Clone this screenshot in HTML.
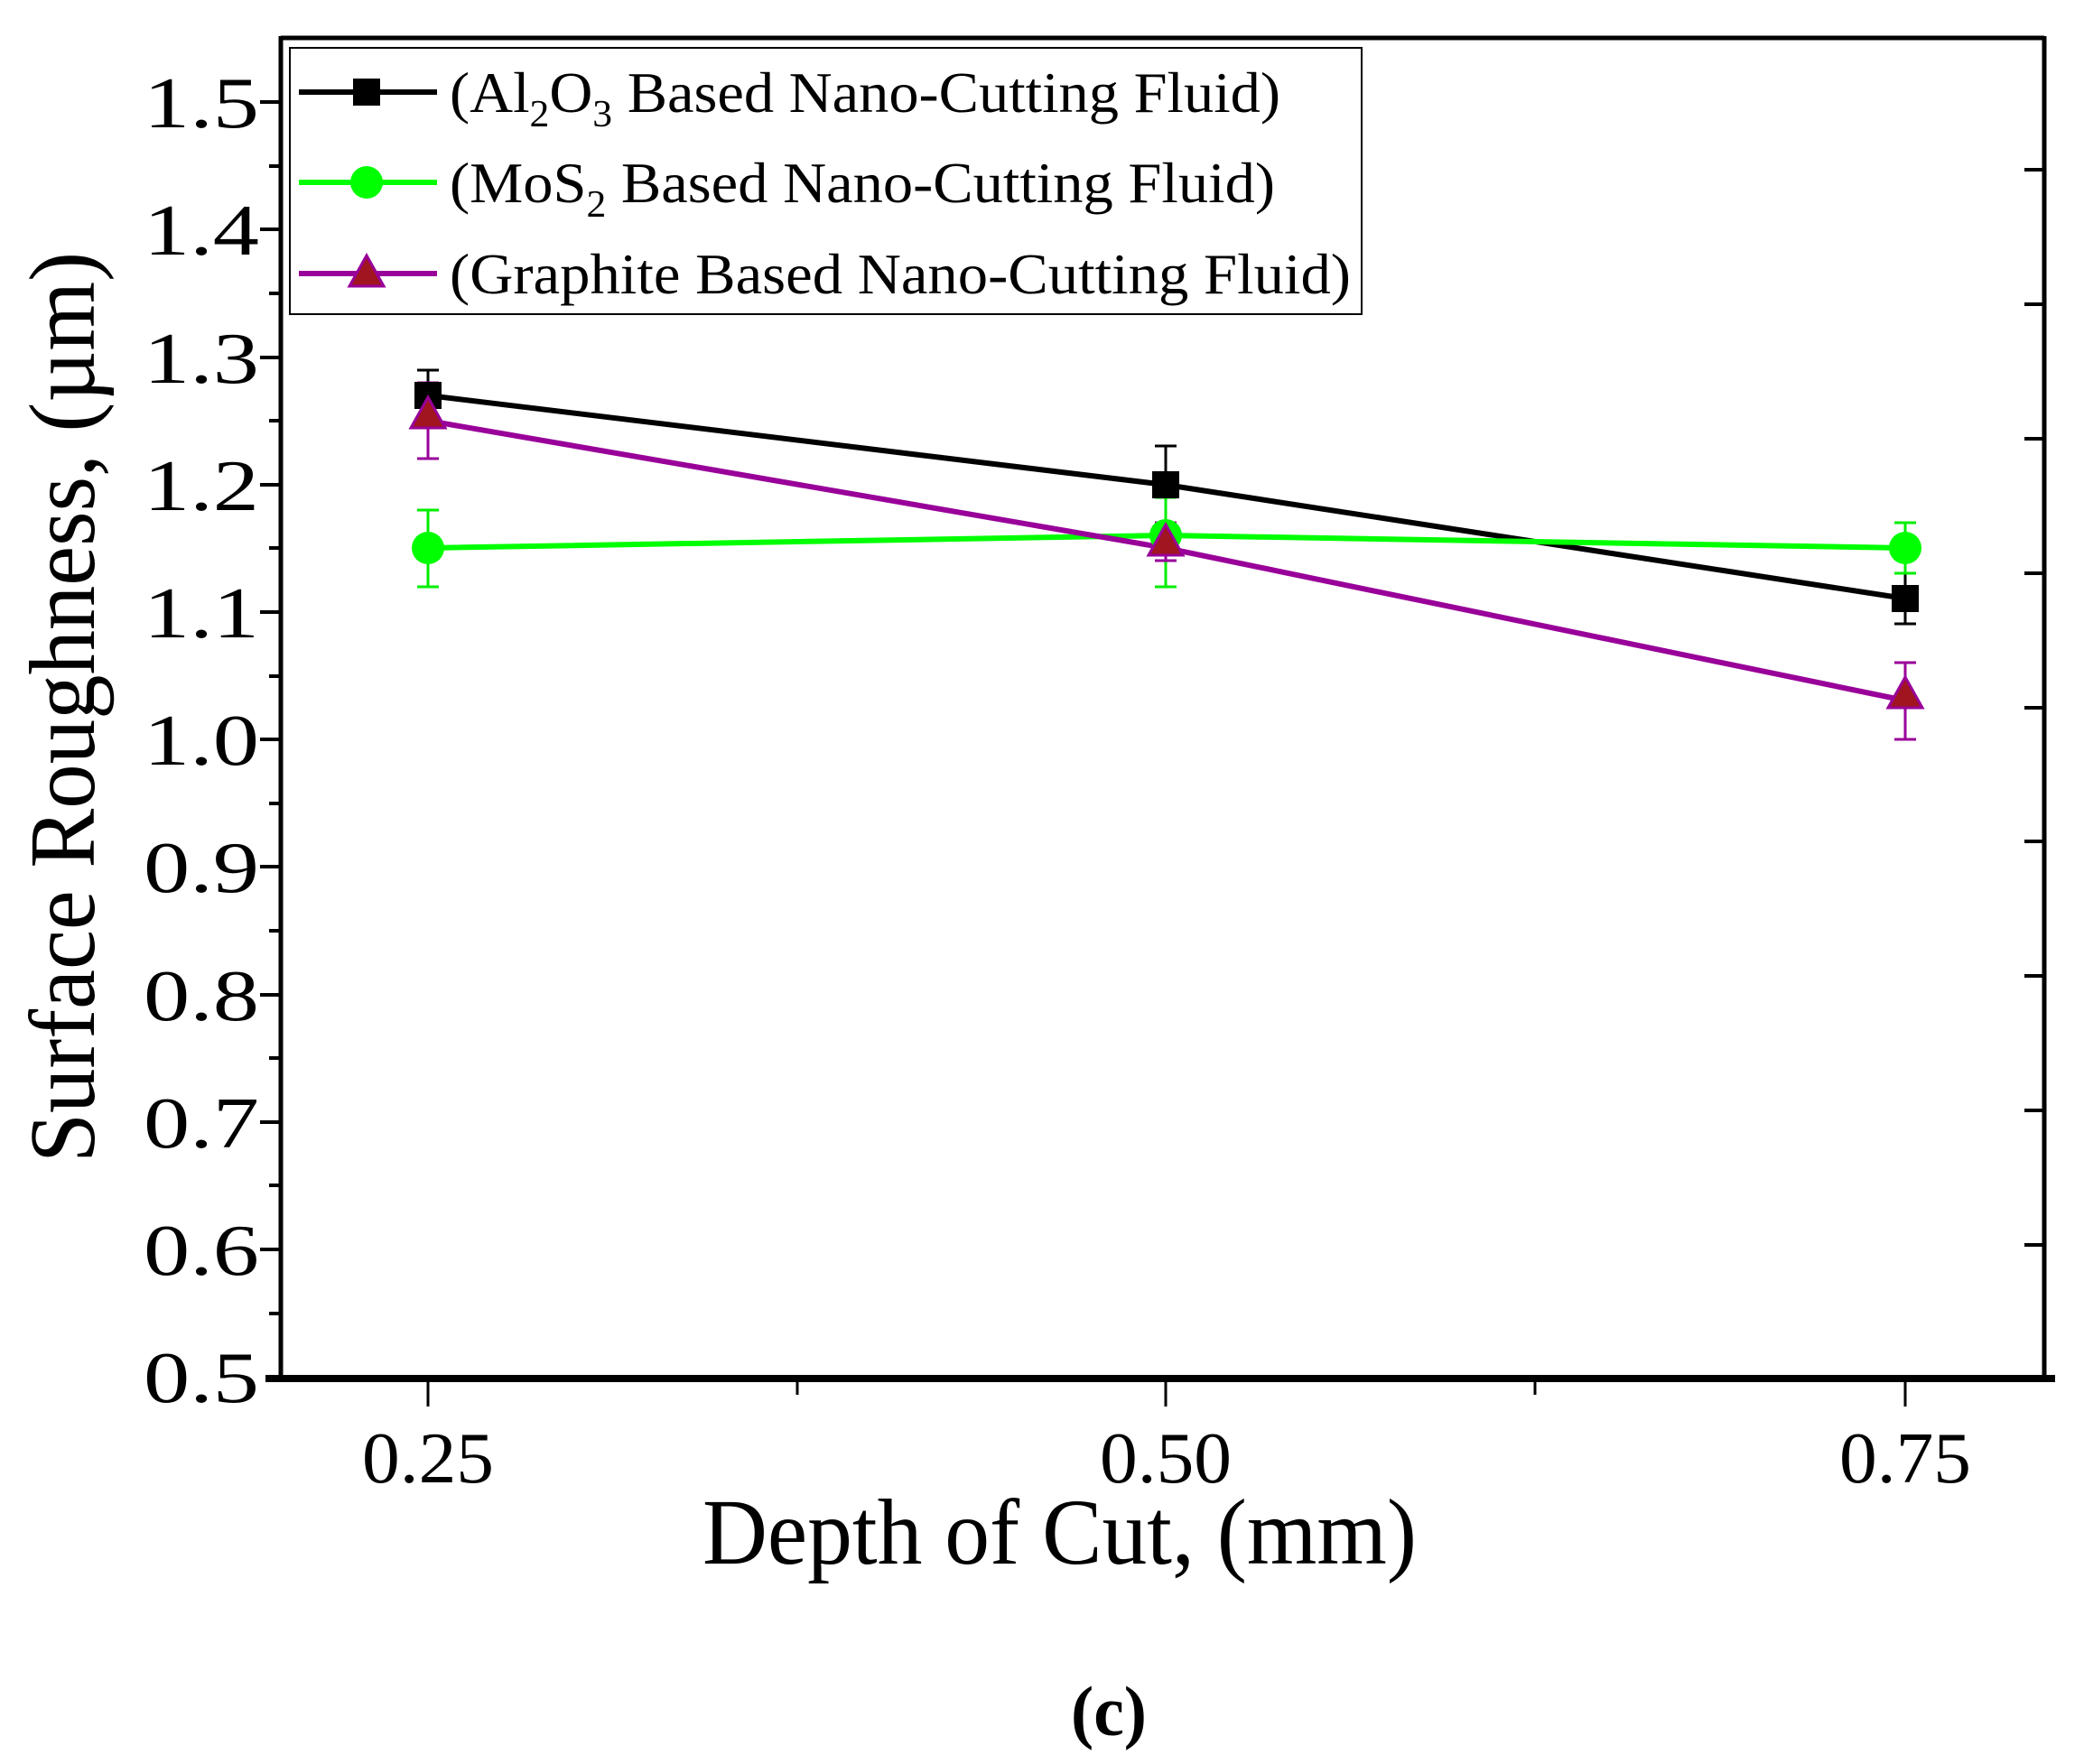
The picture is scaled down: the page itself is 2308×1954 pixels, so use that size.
<!DOCTYPE html>
<html><head><style>html,body{margin:0;padding:0;background:#fff;}svg{display:block}</style></head>
<body>
<svg width="2308" height="1954" viewBox="0 0 2308 1954" xmlns="http://www.w3.org/2000/svg" font-family="'Liberation Serif',serif">
<rect width="2308" height="1954" fill="#fff"/>
<!-- frame -->
<line x1="311" y1="40" x2="311" y2="1527" stroke="#000" stroke-width="5"/>
<line x1="294" y1="1527" x2="2276" y2="1527" stroke="#000" stroke-width="8"/>
<line x1="311" y1="42" x2="2264" y2="42" stroke="#000" stroke-width="5"/>
<line x1="2264" y1="40" x2="2264" y2="1527" stroke="#000" stroke-width="5"/>
<!-- left ticks -->
<g stroke="#000" stroke-width="4">
<line x1="288" y1="113" x2="311" y2="113"/><line x1="298" y1="184" x2="311" y2="184"/>
<line x1="288" y1="254" x2="311" y2="254"/><line x1="298" y1="325" x2="311" y2="325"/>
<line x1="288" y1="396" x2="311" y2="396"/><line x1="298" y1="466" x2="311" y2="466"/>
<line x1="288" y1="537" x2="311" y2="537"/><line x1="298" y1="607" x2="311" y2="607"/>
<line x1="288" y1="678" x2="311" y2="678"/><line x1="298" y1="749" x2="311" y2="749"/>
<line x1="288" y1="819" x2="311" y2="819"/><line x1="298" y1="890" x2="311" y2="890"/>
<line x1="288" y1="960" x2="311" y2="960"/><line x1="298" y1="1031" x2="311" y2="1031"/>
<line x1="288" y1="1102" x2="311" y2="1102"/><line x1="298" y1="1172" x2="311" y2="1172"/>
<line x1="288" y1="1243" x2="311" y2="1243"/><line x1="298" y1="1313" x2="311" y2="1313"/>
<line x1="288" y1="1384" x2="311" y2="1384"/><line x1="298" y1="1455" x2="311" y2="1455"/>
</g>
<!-- right ticks -->
<g stroke="#000" stroke-width="4">
<line x1="2242" y1="188" x2="2264" y2="188"/><line x1="2242" y1="337" x2="2264" y2="337"/>
<line x1="2242" y1="486" x2="2264" y2="486"/><line x1="2242" y1="635" x2="2264" y2="635"/>
<line x1="2242" y1="784" x2="2264" y2="784"/><line x1="2242" y1="932" x2="2264" y2="932"/>
<line x1="2242" y1="1081" x2="2264" y2="1081"/><line x1="2242" y1="1230" x2="2264" y2="1230"/>
<line x1="2242" y1="1379" x2="2264" y2="1379"/>
</g>
<!-- bottom ticks -->
<g stroke="#000" stroke-width="3">
<line x1="474" y1="1527" x2="474" y2="1558"/><line x1="883" y1="1527" x2="883" y2="1545"/>
<line x1="1291" y1="1527" x2="1291" y2="1558"/><line x1="1700" y1="1527" x2="1700" y2="1545"/>
<line x1="2110" y1="1527" x2="2110" y2="1558"/>
</g>
<!-- y labels -->
<g font-size="80" text-anchor="end">
<text x="287" y="141" textLength="128" lengthAdjust="spacingAndGlyphs">1.5</text>
<text x="287" y="282" textLength="128" lengthAdjust="spacingAndGlyphs">1.4</text>
<text x="287" y="424" textLength="128" lengthAdjust="spacingAndGlyphs">1.3</text>
<text x="287" y="565" textLength="128" lengthAdjust="spacingAndGlyphs">1.2</text>
<text x="287" y="706" textLength="128" lengthAdjust="spacingAndGlyphs">1.1</text>
<text x="287" y="847" textLength="128" lengthAdjust="spacingAndGlyphs">1.0</text>
<text x="287" y="988" textLength="128" lengthAdjust="spacingAndGlyphs">0.9</text>
<text x="287" y="1130" textLength="128" lengthAdjust="spacingAndGlyphs">0.8</text>
<text x="287" y="1271" textLength="128" lengthAdjust="spacingAndGlyphs">0.7</text>
<text x="287" y="1412" textLength="128" lengthAdjust="spacingAndGlyphs">0.6</text>
<text x="287" y="1553" textLength="128" lengthAdjust="spacingAndGlyphs">0.5</text>
</g>
<g font-size="80">
<text x="401" y="1642" textLength="146" lengthAdjust="spacingAndGlyphs">0.25</text>
<text x="1218" y="1642" textLength="146" lengthAdjust="spacingAndGlyphs">0.50</text>
<text x="2037" y="1642" textLength="146" lengthAdjust="spacingAndGlyphs">0.75</text>
</g>
<text x="778" y="1732" font-size="104" textLength="791" lengthAdjust="spacingAndGlyphs">Depth of Cut, (mm)</text>
<text transform="translate(104,1288) rotate(-90)" font-size="104" textLength="1009" lengthAdjust="spacingAndGlyphs">Surface Roughness, (µm)</text>
<text x="1186" y="1922" font-size="78" font-weight="bold" textLength="84" lengthAdjust="spacingAndGlyphs">(c)</text>
<!-- error bars -->
<g stroke-width="3" fill="none">
<g stroke="#000">
<path d="M474 410V438M462 410H486M462 438H486"/>
<path d="M1291 494V579M1279 494H1303M1279 579H1303"/>
<path d="M2110 635V691M2098 635H2122M2098 691H2122"/>
</g>
<g stroke="#00ee00">
<path d="M474 565V650M462 565H486M462 650H486"/>
<path d="M1291 551V650M1279 551H1303M1279 650H1303"/>
<path d="M2110 579V635M2098 579H2122M2098 635H2122"/>
</g>
<g stroke="#990099">
<path d="M474 424V508M462 424H486M462 508H486"/>
<path d="M1291 579V621M1279 579H1303M1279 621H1303"/>
<path d="M2110 734V819M2098 734H2122M2098 819H2122"/>
</g>
</g>
<!-- lines -->
<polyline points="474,438 1291,537 2110,663" fill="none" stroke="#000" stroke-width="6"/>
<polyline points="474,607 1291,593 2110,607" fill="none" stroke="#00ff00" stroke-width="6"/>
<polyline points="474,466 1291,607 2110,776" fill="none" stroke="#990099" stroke-width="6"/>
<!-- markers -->
<rect x="459" y="423" width="30" height="30" fill="#000"/>
<rect x="1276" y="522" width="30" height="30" fill="#000"/>
<rect x="2095" y="648" width="30" height="30" fill="#000"/>
<circle cx="474" cy="607" r="18" fill="#00ff00"/>
<circle cx="1291" cy="593" r="18" fill="#00ff00"/>
<circle cx="2110" cy="607" r="18" fill="#00ff00"/>
<g fill="#a01520" stroke="#990099" stroke-width="3">
<polygon points="474,440 455,474 493,474"/>
<polygon points="1291,581 1272,615 1310,615"/>
<polygon points="2110,750 2091,784 2129,784"/>
</g>
<!-- legend -->
<rect x="321" y="53" width="1187" height="295" fill="#fff" stroke="#000" stroke-width="2"/>
<line x1="331" y1="102" x2="484" y2="102" stroke="#000" stroke-width="6"/>
<rect x="391" y="87" width="30" height="30" fill="#000"/>
<line x1="331" y1="202" x2="484" y2="202" stroke="#00ff00" stroke-width="6"/>
<circle cx="406" cy="202" r="18" fill="#00ff00"/>
<line x1="331" y1="303" x2="484" y2="303" stroke="#990099" stroke-width="6"/>
<polygon points="406,283 387,317 425,317" fill="#a01520" stroke="#990099" stroke-width="3"/>
<g font-size="64">
<text x="498" y="124" textLength="920" lengthAdjust="spacingAndGlyphs">(Al<tspan font-size="42" dy="16">2</tspan><tspan dy="-16">O</tspan><tspan font-size="42" dy="16">3</tspan><tspan dy="-16"> Based Nano-Cutting Fluid)</tspan></text>
<text x="498" y="224" textLength="914" lengthAdjust="spacingAndGlyphs">(MoS<tspan font-size="42" dy="16">2</tspan><tspan dy="-16"> Based Nano-Cutting Fluid)</tspan></text>
<text x="498" y="325" textLength="998" lengthAdjust="spacingAndGlyphs">(Graphite Based Nano-Cutting Fluid)</text>
</g>
</svg>
</body></html>
